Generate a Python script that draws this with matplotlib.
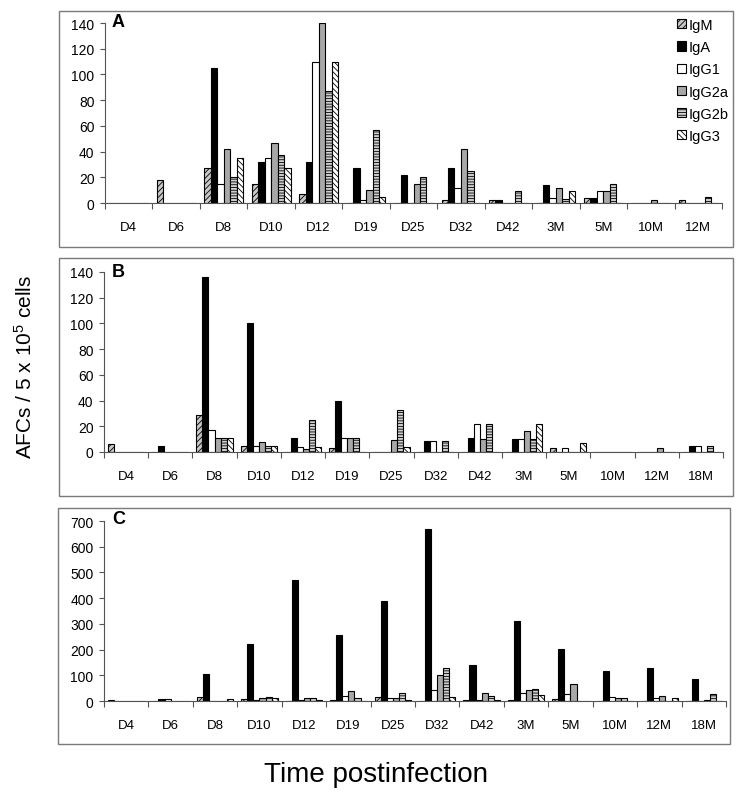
import matplotlib
matplotlib.use('Agg')
import matplotlib.pyplot as plt
import numpy as np
from matplotlib.patches import Rectangle, Patch

plt.rcParams['font.family'] = ['Liberation Sans', 'DejaVu Sans']
plt.rcParams['hatch.linewidth'] = 0.6
plt.rcParams['mathtext.fontset'] = 'custom'
plt.rcParams['mathtext.rm'] = 'Liberation Sans'

series = ['IgM', 'IgA', 'IgG1', 'IgG2a', 'IgG2b', 'IgG3']

cats_a = ['D4', 'D6', 'D8', 'D10', 'D12', 'D19', 'D25', 'D32', 'D42', '3M', '5M', '10M', '12M']
cats_bc = ['D4', 'D6', 'D8', 'D10', 'D12', 'D19', 'D25', 'D32', 'D42', '3M', '5M', '10M', '12M', '18M']

# Panel A
a_igm   = [0, 18, 27, 15, 7, 0, 0, 2, 2, 0, 4, 0, 2]
a_iga   = [0, 0, 105, 32, 32, 27, 22, 27, 2, 14, 4, 0, 0]
a_igg1  = [0, 0, 15, 35, 110, 2.5, 0, 12, 0, 4, 9.5, 0, 0]
a_igg2a = [0, 0, 42, 47, 140, 10, 15, 42, 0, 12, 9.5, 2, 0]
a_igg2b = [0, 0, 20, 37, 87, 57, 20, 25, 9.5, 3.5, 14.5, 0, 4.5]
a_igg3  = [0, 0, 35, 27, 110, 4.5, 0, 0, 0, 9.5, 0, 0, 0]

# Panel B
b_igm   = [6.5, 0, 28.5, 5, 0, 3.5, 0, 0, 0, 0, 3, 0, 0, 0]
b_iga   = [0, 5, 136, 100, 11, 40, 0, 8.5, 11, 10.5, 0, 0, 0, 5]
b_igg1  = [0, 0, 17, 5, 4, 11, 0, 8.5, 22, 10.5, 3, 0, 0, 5]
b_igg2a = [0, 0, 11, 8, 2, 11, 9, 0, 10, 16, 0, 0, 3, 0]
b_igg2b = [0, 0, 11, 5, 25, 11, 33, 8.5, 22, 10, 0, 0, 0, 5]
b_igg3  = [0, 0, 11, 5, 4, 0, 4, 0, 0, 22, 7, 0, 0, 0]

# Panel C
c_igm   = [5, 0, 17, 6, 0, 5, 14, 0, 3, 4, 8, 1, 0, 0]
c_iga   = [0, 8, 104, 222, 472, 258, 390, 668, 141, 312, 203, 115, 127, 85]
c_igg1  = [0, 6, 0, 5, 5, 21, 13, 44, 3, 31, 27, 14, 10, 1]
c_igg2a = [0, 0, 0, 10, 10, 39, 13, 101, 32, 41, 65, 13, 19, 5]
c_igg2b = [0, 0, 0, 15, 10, 10, 30, 128, 21, 45, 0, 12, 0, 26]
c_igg3  = [0, 0, 8, 10, 5, 0, 5, 17, 3, 22, 0, 0, 12, 0]

styles = {
    'IgM':   dict(facecolor='#c8c8c8', hatch='//////'),
    'IgA':   dict(facecolor='black'),
    'IgG1':  dict(facecolor='white'),
    'IgG2a': dict(facecolor='#a8a8a8'),
    'IgG2b': dict(facecolor='#d0d0d0', hatch='------'),
    'IgG3':  dict(facecolor='white', hatch='\\\\\\\\\\\\'),
}

W, H = 743, 803
fig = plt.figure(figsize=(W / 100, H / 100), dpi=100)

def fx(px):
    return px / W

def fy(py):
    return 1 - py / H

panels = [
    dict(cats=cats_a, data=[a_igm, a_iga, a_igg1, a_igg2a, a_igg2b, a_igg3],
         box=(105, 722, 24, 204), ymax=140, step=20, letter='A', lpos=(112, 14),
         frame=(59, 733, 12, 248)),
    dict(cats=cats_bc, data=[b_igm, b_iga, b_igg1, b_igg2a, b_igg2b, b_igg3],
         box=(104, 723, 273, 453), ymax=140, step=20, letter='B', lpos=(112, 264),
         frame=(59, 733, 259, 497)),
    dict(cats=cats_bc, data=[c_igm, c_iga, c_igg1, c_igg2a, c_igg2b, c_igg3],
         box=(104, 726, 522, 702), ymax=700, step=100, letter='C', lpos=(112, 511),
         frame=(58, 730, 509, 745)),
]

group = 0.82
bw = group / 6
axes = []
for p in panels:
    x0, x1, y0, y1 = p['box']
    ax = fig.add_axes([fx(x0), fy(y1), fx(x1) - fx(x0), (y1 - y0) / H])
    n = len(p['cats'])
    xc = np.arange(n) + 0.5
    for k, (name, vals) in enumerate(zip(series, p['data'])):
        offs = -group / 2 + bw * (k + 0.5)
        ax.bar(xc + offs, vals, width=bw, edgecolor='black', linewidth=0.8,
               label=name, **styles[name])
    ax.set_xlim(0, n)
    ax.set_ylim(0, p['ymax'])
    ax.set_yticks(np.arange(0, p['ymax'] + 1, p['step']))
    ax.set_xticks(np.arange(0, n + 1))
    ax.set_xticklabels([])
    ax.set_xticks(xc, minor=True)
    ax.set_xticklabels(p['cats'], minor=True)
    ax.tick_params(axis='x', which='minor', length=0, pad=13, labelsize=9.5)
    ax.tick_params(axis='x', which='major', length=4.5, width=0.8, color='#555555')
    ax.tick_params(axis='y', length=3.5, width=0.8, color='#555555', pad=4, labelsize=10)
    for s in ['top', 'right']:
        ax.spines[s].set_visible(False)
    for s in ['left', 'bottom']:
        ax.spines[s].set_color('#555555')
        ax.spines[s].set_linewidth(0.8)
    fig.text(fx(p['lpos'][0]), fy(p['lpos'][1]), p['letter'], fontsize=13,
             fontweight='bold', ha='left', va='top')
    fx0, fx1, fy0, fy1 = p['frame']
    fig.add_artist(Rectangle((fx(fx0), fy(fy1)), fx(fx1) - fx(fx0), (fy1 - fy0) / H,
                             transform=fig.transFigure, fill=False,
                             edgecolor='#7a7a7a', linewidth=1.0))
    axes.append(ax)

handles = [Patch(edgecolor='black', linewidth=0.8, label=s, **styles[s]) for s in series]
fig.legend(handles=handles, loc='upper left', bbox_to_anchor=(fx(677), fy(19)),
           frameon=False, fontsize=10.5, handlelength=0.6, handleheight=0.6,
           handletextpad=0.2, labelspacing=0.56, borderpad=0, borderaxespad=0)

fig.text(0.033, fy(367), r'AFCs / 5 x 10$\mathregular{^5}$ cells', rotation=90,
         ha='center', va='center', fontsize=15)
fig.text(fx(376), fy(775), 'Time postinfection', ha='center', va='center', fontsize=20)

fig.savefig('out.png', dpi=100)
